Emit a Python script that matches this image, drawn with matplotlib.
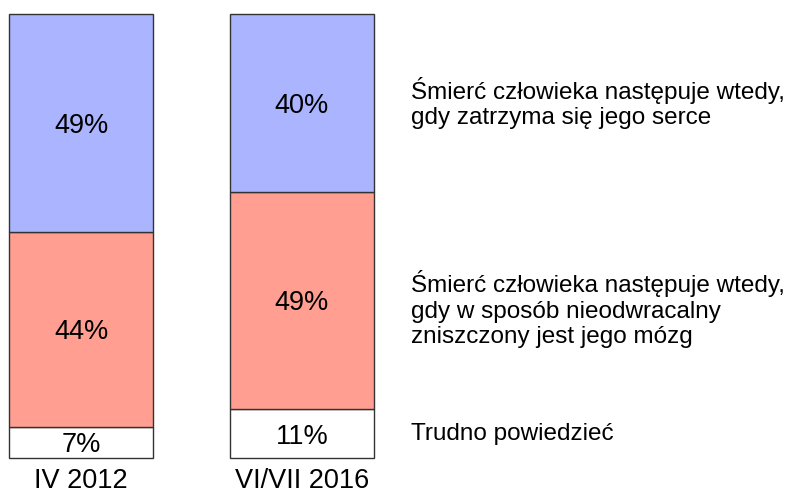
import matplotlib.pyplot as plt
import numpy as np

plt.rcParams['font.family'] = ['Liberation Sans', 'DejaVu Sans']

# --- data ---
periods = ["IV 2012", "VI/VII 2016"]
heart = [49, 40]
brain = [44, 49]
dont_know = [7, 11]
answers = [
    "Śmierć człowieka następuje wtedy,\ngdy zatrzyma się jego serce",
    "Śmierć człowieka następuje wtedy,\ngdy w sposób nieodwracalny\nzniszczony jest jego mózg",
    "Trudno powiedzieć",
]

colors = ["white", "#ff9e91", "#aab4ff"]
W, H = 793, 494

fig = plt.figure(figsize=(W / 100, H / 100), dpi=100)
ax = fig.add_axes([9 / W, (H - 458) / H, (374 - 9) / W, 444 / H])

x = np.arange(len(periods))
width = 0.652
segments = [dont_know, brain, heart]
bottom = np.zeros(len(periods))
for vals, col in zip(segments, colors):
    vals = np.array(vals, dtype=float)
    bars = ax.bar(x, vals, width, bottom=bottom, color=col, edgecolor="#333333", linewidth=1.0)
    for b in bars:
        b.set_clip_on(False)
    for xi, b, v in zip(x, bottom, vals):
        ax.text(xi, b + v / 2, f"{int(v)}%", ha="center", va="center_baseline", fontsize=19.5)
    bottom += vals

ax.set_xlim(-width / 2, 1 + width / 2)
ax.set_ylim(0, 100)
ax.axis("off")

for xi, lab in zip(x, periods):
    ax.text(xi, -2.3, lab, ha="center", va="top", fontsize=19.5)

# labels on the right, aligned to the second bar's segments
mids = [dont_know[1] / 2, dont_know[1] + brain[1] / 2 - 2, dont_know[1] + brain[1] + heart[1] / 2]
lx = 1 + (411 - 302) / 221
for txt, ym in zip([answers[2], answers[1], answers[0]], mids):
    ax.text(lx, ym, txt, ha="left", va="center", fontsize=17.5, linespacing=1.2, clip_on=False)

fig.savefig("out.png", dpi=100)
